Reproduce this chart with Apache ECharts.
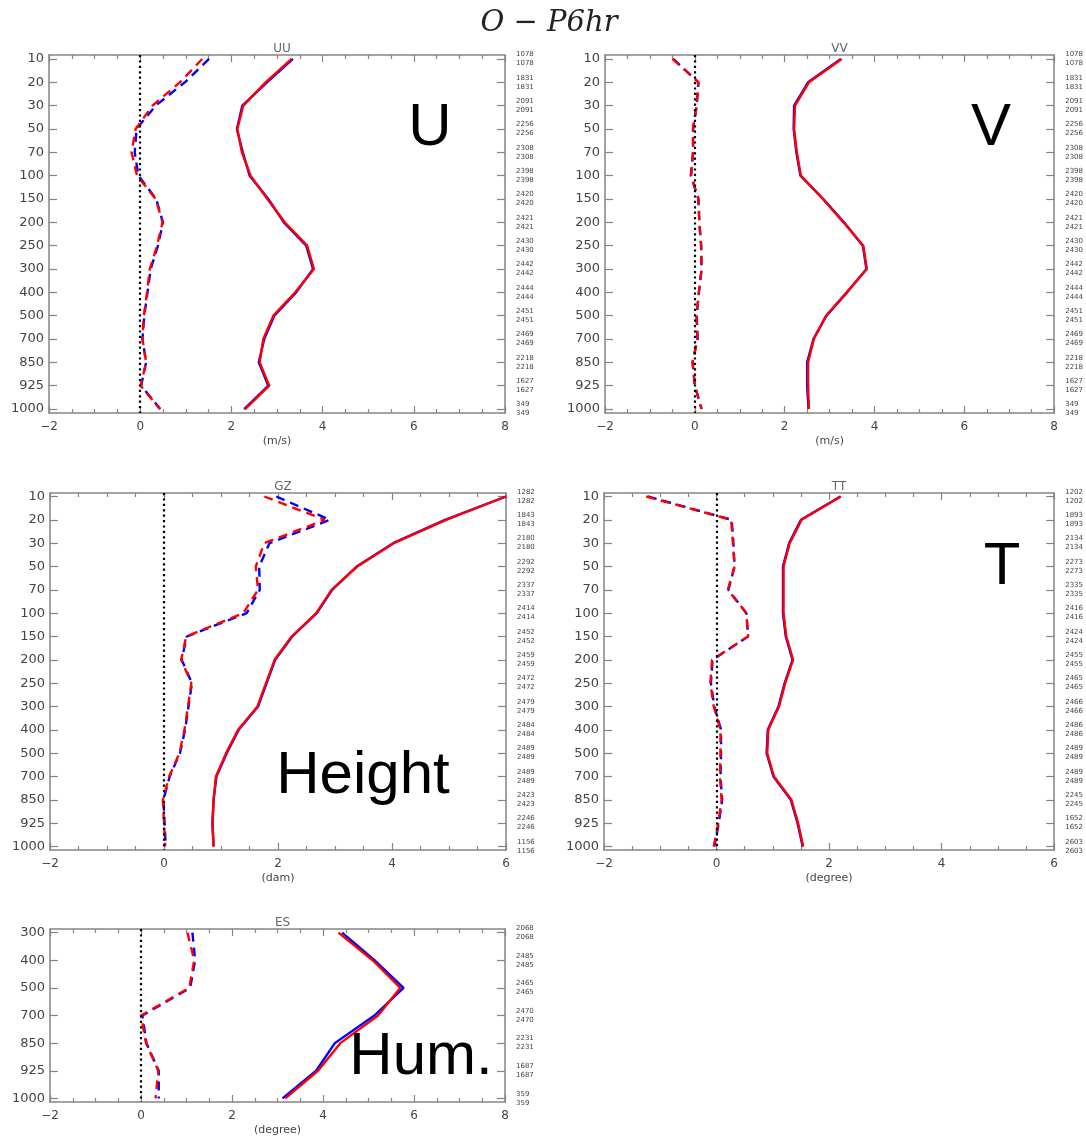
<!DOCTYPE html>
<html>
<head>
<meta charset="utf-8">
<script src="https://cdn.jsdelivr.net/npm/echarts@6/dist/echarts.min.js"></script>
<style>
html,body{margin:0;padding:0;background:#fff;}
#chart{width:1086px;height:1138px;}
</style>
</head>
<body>
<div id="chart"></div>
<script>
// ---------------- DATA ----------------
const levelsFull = ['10','20','30','50','70','100','150','200','250','300','400','500','700','850','925','1000'];
const levelsES = ['300','400','500','700','850','925','1000'];

const uuSolidBlue = [3.35,2.78,2.24,2.12,2.25,2.40,2.81,3.15,3.64,3.79,3.42,2.94,2.72,2.60,2.81,2.28];
const uuSolidRed  = [3.32,2.75,2.26,2.13,2.23,2.42,2.79,3.17,3.66,3.81,3.40,2.92,2.70,2.62,2.83,2.30];
const uuDashBlue  = [1.51,0.98,0.34,-0.08,-0.12,-0.04,0.35,0.50,0.39,0.23,0.16,0.09,0.05,0.13,0.02,0.44];
const uuDashRed   = [1.36,0.87,0.27,-0.10,-0.19,-0.07,0.34,0.49,0.37,0.21,0.15,0.08,0.05,0.13,0.01,0.43];
const uuCounts    = [1078,1831,2091,2256,2308,2398,2420,2421,2430,2442,2444,2451,2469,2218,1627,349];

const vvSolidBlue = [3.25,2.52,2.21,2.20,2.26,2.35,2.86,3.32,3.74,3.82,3.39,2.93,2.64,2.50,2.50,2.53];
const vvSolidRed  = [3.27,2.54,2.23,2.21,2.27,2.36,2.85,3.31,3.75,3.83,3.38,2.92,2.65,2.52,2.52,2.54];
const vvDashBlue  = [-0.48,0.08,0.04,-0.04,-0.04,-0.09,0.08,0.10,0.14,0.15,0.09,0.04,0.06,-0.05,0.00,0.15];
const vvDashRed   = [-0.50,0.08,0.04,-0.04,-0.04,-0.08,0.08,0.10,0.14,0.15,0.09,0.04,0.06,-0.05,0.00,0.15];
const vvCounts    = [1078,1831,2091,2256,2308,2398,2420,2421,2430,2442,2444,2451,2469,2218,1627,349];

const gzSolidBlue = [6.00,4.93,4.02,3.38,2.95,2.68,2.25,1.95,1.80,1.65,1.31,1.10,0.92,0.87,0.85,0.87];
const gzSolidRed  = [6.00,4.95,4.03,3.39,2.94,2.67,2.24,1.94,1.79,1.64,1.30,1.09,0.91,0.87,0.85,0.87];
const gzDashBlue  = [1.97,2.91,1.85,1.67,1.68,1.45,0.40,0.31,0.49,0.43,0.37,0.28,0.10,-0.01,0.01,0.03];
const gzDashRed   = [1.76,2.82,1.76,1.61,1.65,1.39,0.39,0.30,0.48,0.42,0.36,0.27,0.09,-0.02,0.00,0.02];
const gzCounts    = [1282,1843,2180,2292,2337,2414,2452,2459,2472,2479,2484,2489,2489,2423,2246,1156];

const ttSolidBlue = [2.20,1.50,1.29,1.18,1.18,1.18,1.23,1.35,1.21,1.10,0.91,0.89,1.01,1.32,1.44,1.53];
const ttSolidRed  = [2.21,1.51,1.30,1.19,1.19,1.19,1.24,1.36,1.22,1.11,0.92,0.90,1.02,1.33,1.45,1.54];
const ttDashBlue  = [-1.22,0.27,0.30,0.32,0.21,0.53,0.56,-0.07,-0.10,-0.04,0.08,0.08,0.07,0.10,0.04,-0.04];
const ttDashRed   = [-1.25,0.26,0.29,0.32,0.20,0.53,0.56,-0.08,-0.11,-0.05,0.07,0.07,0.06,0.09,0.03,-0.05];
const ttCounts    = [1202,1893,2134,2273,2335,2416,2424,2455,2465,2466,2486,2489,2489,2245,1652,2603];

const esSolidBlue = [4.42,5.13,5.77,5.13,4.26,3.85,3.11];
const esSolidRed  = [4.34,5.09,5.70,5.21,4.38,3.89,3.17];
const esDashBlue  = [1.13,1.19,1.08,0.03,0.12,0.39,0.39];
const esDashRed   = [1.02,1.17,1.06,0.00,0.11,0.38,0.32];
const esCounts    = [2068,2485,2465,2470,2231,1687,359];

// ---------------- LAYOUT ----------------
const panels = [
  {title:'UU', levels:levelsFull, sb:uuSolidBlue, sr:uuSolidRed, db:uuDashBlue, dr:uuDashRed, counts:uuCounts,
   xmin:-2, xmax:8, unit:'(m/s)', box:{left:49, top:55, width:456, height:358}, pad:0.17,
   annot:{text:'U', x:430, y:128}},
  {title:'VV', levels:levelsFull, sb:vvSolidBlue, sr:vvSolidRed, db:vvDashBlue, dr:vvDashRed, counts:vvCounts,
   xmin:-2, xmax:8, unit:'(m/s)', box:{left:605, top:55, width:459, height:358}, pad:0.17,
   annot:{text:'V', x:991, y:128}},
  {title:'GZ', levels:levelsFull, sb:gzSolidBlue, sr:gzSolidRed, db:gzDashBlue, dr:gzDashRed, counts:gzCounts,
   xmin:-2, xmax:6, unit:'(dam)', box:{left:50, top:493, width:456, height:357}, pad:0.15,
   annot:{text:'Height', x:363, y:776}},
  {title:'TT', levels:levelsFull, sb:ttSolidBlue, sr:ttSolidRed, db:ttDashBlue, dr:ttDashRed, counts:ttCounts,
   xmin:-2, xmax:6, unit:'(degree)', box:{left:604, top:493, width:460, height:357}, pad:0.15,
   annot:{text:'T', x:1002, y:567}},
  {title:'ES', levels:levelsES, sb:esSolidBlue, sr:esSolidRed, db:esDashBlue, dr:esDashRed, counts:esCounts,
   xmin:-2, xmax:8, unit:'(degree)', box:{left:50, top:929, width:455, height:173}, pad:0.13,
   annot:{text:'Hum.', x:421, y:1057}}
];

const frameColor = '#858585';
const labelColor = '#444';
const BLUE = '#0000ff', RED = '#ff0000';
const fmtX = v => v < 0 ? '\u2212' + (-v) : String(v);

const grid = [], xAxis = [], yAxis = [], series = [], title = [], graphic = [];

title.push({
  text: 'O \u2212 P6hr', left: 544, top: 4, textAlign: 'center',
  textStyle: {fontFamily: 'DejaVu Serif', fontStyle: 'italic', fontWeight: 'normal', fontSize: 29, color: '#222'}
});

panels.forEach((p, i) => {
  const n = p.levels.length;
  const idx = p.levels.map((_, k) => k);
  grid.push(Object.assign({containLabel: false}, p.box));
  title.push({
    text: p.title, left: p.box.left + p.box.width / 2, top: p.box.top - 17, textAlign: 'center',
    textStyle: {fontFamily: 'DejaVu Sans', fontWeight: 'normal', fontSize: 12, color: '#666'}
  });
  const commonX = {
    type: 'value', gridIndex: i, min: p.xmin, max: p.xmax, interval: 2,
    axisLine: {show: true, onZero: false, lineStyle: {color: frameColor, width: 1.5}},
    axisTick: {show: true, inside: true, length: 7, lineStyle: {color: frameColor, width: 1.2}},
    minorTick: {show: true, splitNumber: 4, length: 4, lineStyle: {color: frameColor, width: 1.2}},
    splitLine: {show: false}, minorSplitLine: {show: false}
  };
  xAxis.push(Object.assign({}, commonX, {
    position: 'bottom',
    axisLabel: {show: true, formatter: fmtX, margin: 8, fontFamily: 'DejaVu Sans', fontSize: 12, color: labelColor},
    name: p.unit, nameLocation: 'middle', nameGap: 23,
    nameTextStyle: {fontFamily: 'DejaVu Sans', fontSize: 11, color: labelColor}
  }));
  xAxis.push(Object.assign({}, commonX, {position: 'top', axisLabel: {show: false}}));
  const commonY = {
    type: 'value', gridIndex: i, inverse: true, min: -p.pad, max: n - 1 + p.pad,
    axisLine: {show: true, onZero: false, lineStyle: {color: frameColor, width: 1.5}},
    axisTick: {show: true, inside: true, length: 8, customValues: idx, lineStyle: {color: frameColor, width: 1.2}},
    splitLine: {show: false}
  };
  yAxis.push(Object.assign({}, commonY, {
    position: 'left',
    axisLabel: {show: true, customValues: idx, formatter: v => p.levels[Math.round(v)], margin: 5,
      fontFamily: 'DejaVu Sans', fontSize: 13, color: labelColor}
  }));
  yAxis.push(Object.assign({}, commonY, {
    position: 'right',
    axisLabel: {show: true, customValues: idx, formatter: v => {
        const c = p.counts[Math.round(v)]; return c + '\n' + c; },
      margin: 11, fontFamily: 'DejaVu Sans', fontSize: 7, lineHeight: 9, color: labelColor, align: 'left'}
  }));
  const mk = (vals) => vals.map((v, k) => [v, k]);
  const base = {type: 'line', xAxisIndex: 2 * i, yAxisIndex: 2 * i, symbol: 'none', silent: true, animation: false};
  series.push(Object.assign({}, base, {
    data: mk(p.sb), lineStyle: {color: BLUE, width: 2.4}, z: 3,
    markLine: {silent: true, symbol: ['none', 'none'], label: {show: false}, animation: false,
      lineStyle: {color: '#000', type: [2.2, 3.2], width: 2.2}, data: [{xAxis: 0}]}
  }));
  series.push(Object.assign({}, base, {data: mk(p.sr), lineStyle: {color: RED, width: 2.4}, z: 4}));
  series.push(Object.assign({}, base, {data: mk(p.db), lineStyle: {color: BLUE, width: 2.4, type: [9, 6]}, z: 3}));
  series.push(Object.assign({}, base, {data: mk(p.dr), lineStyle: {color: RED, width: 2.4, type: [9, 6]}, z: 4}));
  graphic.push({
    type: 'text', x: p.annot.x, y: p.annot.y, z: 100,
    style: {text: p.annot.text, fill: '#000', font: '60px "Liberation Sans", Arial, sans-serif',
      align: 'center', verticalAlign: 'middle'}
  });
});

const chart = echarts.init(document.getElementById('chart'), null, {renderer: 'canvas'});
chart.setOption({
  backgroundColor: '#fff', animation: false,
  title, grid, xAxis, yAxis, series, graphic
});
</script>
</body>
</html>
